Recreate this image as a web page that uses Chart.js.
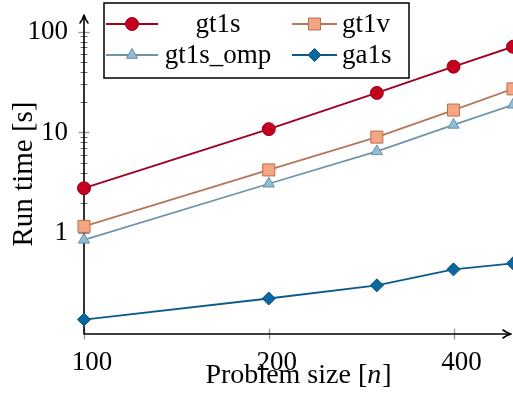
<!DOCTYPE html>
<html lang="en">
<head>
    <meta charset="UTF-8">
    <title>Run time vs problem size</title>
    <script src="https://cdn.jsdelivr.net/npm/chart.js"></script>
    <style>
        body { margin: 0; background: #fff; }
        #runChart { display: block; }
    </style>
</head>
<body>
    <canvas id="runChart" width="513" height="394"></canvas>

    <script>
        // values
        const problemSizes = [100, 200, 300, 400, 500];
        const gt1sTimes = [2.8, 10.8, 24.7, 45, 71];
        const gt1vTimes = [1.17, 4.25, 9.0, 16.7, 27.1];
        const gt1sOmpTimes = [0.86, 3.1, 6.5, 11.9, 18.8];
        const ga1sTimes = [0.139, 0.225, 0.304, 0.438, 0.503];

        const xTickValues = [100, 200, 400];
        const yTickValues = [1, 2, 3, 4, 5, 6, 7, 8, 9, 10, 20, 30, 40, 50, 60, 70, 80, 90, 100];
        const yLabelValues = [1, 10, 100];

        const serif = "'Liberation Serif', 'Times New Roman', serif";

        function points(times) {
            return problemSizes.map((n, i) => ({ x: n, y: times[i] }));
        }

        function series(label, times, line, fill, edge, style, radius) {
            return {
                label: label,
                data: points(times),
                borderColor: line,
                borderWidth: 1.8,
                pointStyle: style,
                pointRadius: radius,
                pointBackgroundColor: fill,
                pointBorderColor: edge,
                pointBorderWidth: 1,
                tension: 0,
                clip: false
            };
        }

        // drop the label padding chart.js adds so the plot area fills the page like the reference
        function noPadding(scale) {
            scale.paddingTop = 0;
            scale.paddingBottom = 0;
            scale.paddingLeft = 0;
            scale.paddingRight = 0;
        }

        // axis lines with arrow heads and the small crossing tick marks
        const axesPlugin = {
            id: 'axesPlugin',
            beforeDatasetsDraw(chart) {
                const ctx = chart.ctx;
                const area = chart.chartArea;
                const xs = chart.scales.x;
                const ys = chart.scales.y;
                ctx.save();

                // ticks
                ys.ticks.forEach(t => {
                    const y = Math.round(ys.getPixelForValue(t.value)) + 0.5;
                    const major = yLabelValues.includes(t.value);
                    ctx.strokeStyle = major ? '#9a9a9a' : '#444';
                    ctx.lineWidth = major ? 1.4 : 0.8;
                    const len = major ? 5.5 : 3.5;
                    ctx.beginPath();
                    ctx.moveTo(area.left - len, y);
                    ctx.lineTo(area.left + len, y);
                    ctx.stroke();
                });
                xs.ticks.forEach(t => {
                    const x = Math.round(xs.getPixelForValue(t.value)) + 0.5;
                    ctx.strokeStyle = '#9a9a9a';
                    ctx.lineWidth = 1.4;
                    ctx.beginPath();
                    ctx.moveTo(x, area.bottom - 5.5);
                    ctx.lineTo(x, area.bottom + 5.5);
                    ctx.stroke();
                });

                // axis lines
                ctx.strokeStyle = '#000';
                ctx.lineWidth = 1.6;
                ctx.lineJoin = 'round';
                ctx.lineCap = 'round';
                ctx.beginPath();
                ctx.moveTo(area.left, 16);
                ctx.lineTo(area.left, area.bottom);
                ctx.lineTo(510, area.bottom);
                ctx.stroke();

                // arrow heads
                ctx.beginPath();
                ctx.moveTo(area.left - 4, 23);
                ctx.quadraticCurveTo(area.left - 1, 19, area.left, 15);
                ctx.quadraticCurveTo(area.left + 1, 19, area.left + 4, 23);
                ctx.stroke();
                ctx.beginPath();
                ctx.moveTo(503, area.bottom - 4);
                ctx.quadraticCurveTo(507, area.bottom - 1, 511, area.bottom);
                ctx.quadraticCurveTo(507, area.bottom + 1, 503, area.bottom + 4);
                ctx.stroke();

                ctx.restore();
            }
        };

        // x axis title with an italic n, legend box in two columns
        const textPlugin = {
            id: 'textPlugin',
            afterDraw(chart) {
                const ctx = chart.ctx;
                ctx.save();
                ctx.fillStyle = '#000';
                ctx.textBaseline = 'alphabetic';

                // x title
                const parts = [
                    { t: 'Problem size [', f: '28px ' + serif },
                    { t: 'n', f: 'italic 28px ' + serif },
                    { t: ']', f: '28px ' + serif }
                ];
                let total = 0;
                parts.forEach(p => { ctx.font = p.f; p.w = ctx.measureText(p.t).width; total += p.w; });
                let x = 298 - total / 2;
                parts.forEach(p => {
                    ctx.font = p.f;
                    ctx.textAlign = 'left';
                    ctx.fillText(p.t, x, 383);
                    x += p.w + (p.t === 'n' ? 1 : 0);
                });

                // legend
                ctx.strokeStyle = '#000';
                ctx.lineWidth = 1.5;
                ctx.fillStyle = '#fff';
                ctx.fillRect(104, 3, 305, 75);
                ctx.strokeRect(104, 3, 305, 75);

                const cells = [
                    { lineFrom: 106, lineTo: 158, textX: 218, align: 'center' },
                    { lineFrom: 292, lineTo: 337, textX: 342, align: 'left' }
                ];
                const rows = [{ mid: 24, base: 32 }, { mid: 55, base: 63 }];
                chart.data.datasets.forEach((ds, i) => {
                    const c = cells[i % 2];
                    const r = rows[Math.floor(i / 2)];
                    ctx.strokeStyle = ds.borderColor;
                    ctx.lineWidth = ds.borderWidth;
                    ctx.beginPath();
                    ctx.moveTo(c.lineFrom, r.mid);
                    ctx.lineTo(c.lineTo, r.mid);
                    ctx.stroke();
                    ctx.fillStyle = ds.pointBackgroundColor;
                    ctx.strokeStyle = ds.pointBorderColor;
                    ctx.lineWidth = ds.pointBorderWidth;
                    Chart.helpers.drawPoint(ctx, {
                        pointStyle: ds.pointStyle,
                        radius: ds.pointRadius,
                        rotation: 0,
                        borderWidth: ds.pointBorderWidth
                    }, (c.lineFrom + c.lineTo) / 2, r.mid);
                    ctx.fillStyle = '#000';
                    ctx.font = '27px ' + serif;
                    ctx.textAlign = c.align;
                    ctx.fillText(ds.label, c.textX, r.base);
                });
                ctx.restore();
            }
        };

        const ctx = document.getElementById('runChart').getContext('2d');
        new Chart(ctx, {
            type: 'line',
            data: {
                datasets: [
                    series('gt1s', gt1sTimes, '#a0001e', '#c4001f', '#99001c', 'circle', 6.5),
                    series('gt1v', gt1vTimes, '#b5775c', '#f4a582', '#b86e50', 'rect', 8.5),
                    series('gt1s_omp', gt1sOmpTimes, '#6f95aa', '#8fbdd6', '#6a8fa4', 'triangle', 6.5),
                    series('ga1s', ga1sTimes, '#0c5a8a', '#0a68a0', '#074f7d', 'rectRot', 6.5)
                ]
            },
            options: {
                responsive: false,
                animation: false,
                devicePixelRatio: 1,
                layout: { autoPadding: false, padding: { top: 14, left: 0, right: 0, bottom: 0 } },
                plugins: {
                    legend: { display: false },
                    tooltip: { enabled: false }
                },
                scales: {
                    x: {
                        type: 'logarithmic',
                        min: 100,
                        max: 500,
                        afterBuildTicks: scale => { scale.ticks = xTickValues.map(v => ({ value: v })); },
                        afterFit: scale => { scale.height = 60; noPadding(scale); },
                        grid: { display: false, drawTicks: false },
                        border: { display: false },
                        ticks: {
                            color: '#000',
                            padding: 13,
                            labelOffset: 8,
                            maxRotation: 0,
                            font: { family: serif, size: 27 },
                            callback: v => String(v)
                        }
                    },
                    y: {
                        type: 'logarithmic',
                        min: 0.1,
                        max: 150,
                        afterBuildTicks: scale => { scale.ticks = yTickValues.map(v => ({ value: v })); },
                        afterFit: scale => { scale.width = 84; noPadding(scale); },
                        grid: { display: false, drawTicks: false },
                        border: { display: false },
                        ticks: {
                            color: '#000',
                            padding: 16,
                            autoSkip: false,
                            font: { family: serif, size: 27 },
                            callback: v => yLabelValues.includes(v) ? String(v) : ''
                        },
                        title: {
                            display: true,
                            text: 'Run time [s]',
                            color: '#000',
                            padding: { top: 7, bottom: 0 },
                            font: { family: serif, size: 29, lineHeight: 1.2 }
                        }
                    }
                }
            },
            plugins: [axesPlugin, textPlugin]
        });
    </script>
</body>
</html>
